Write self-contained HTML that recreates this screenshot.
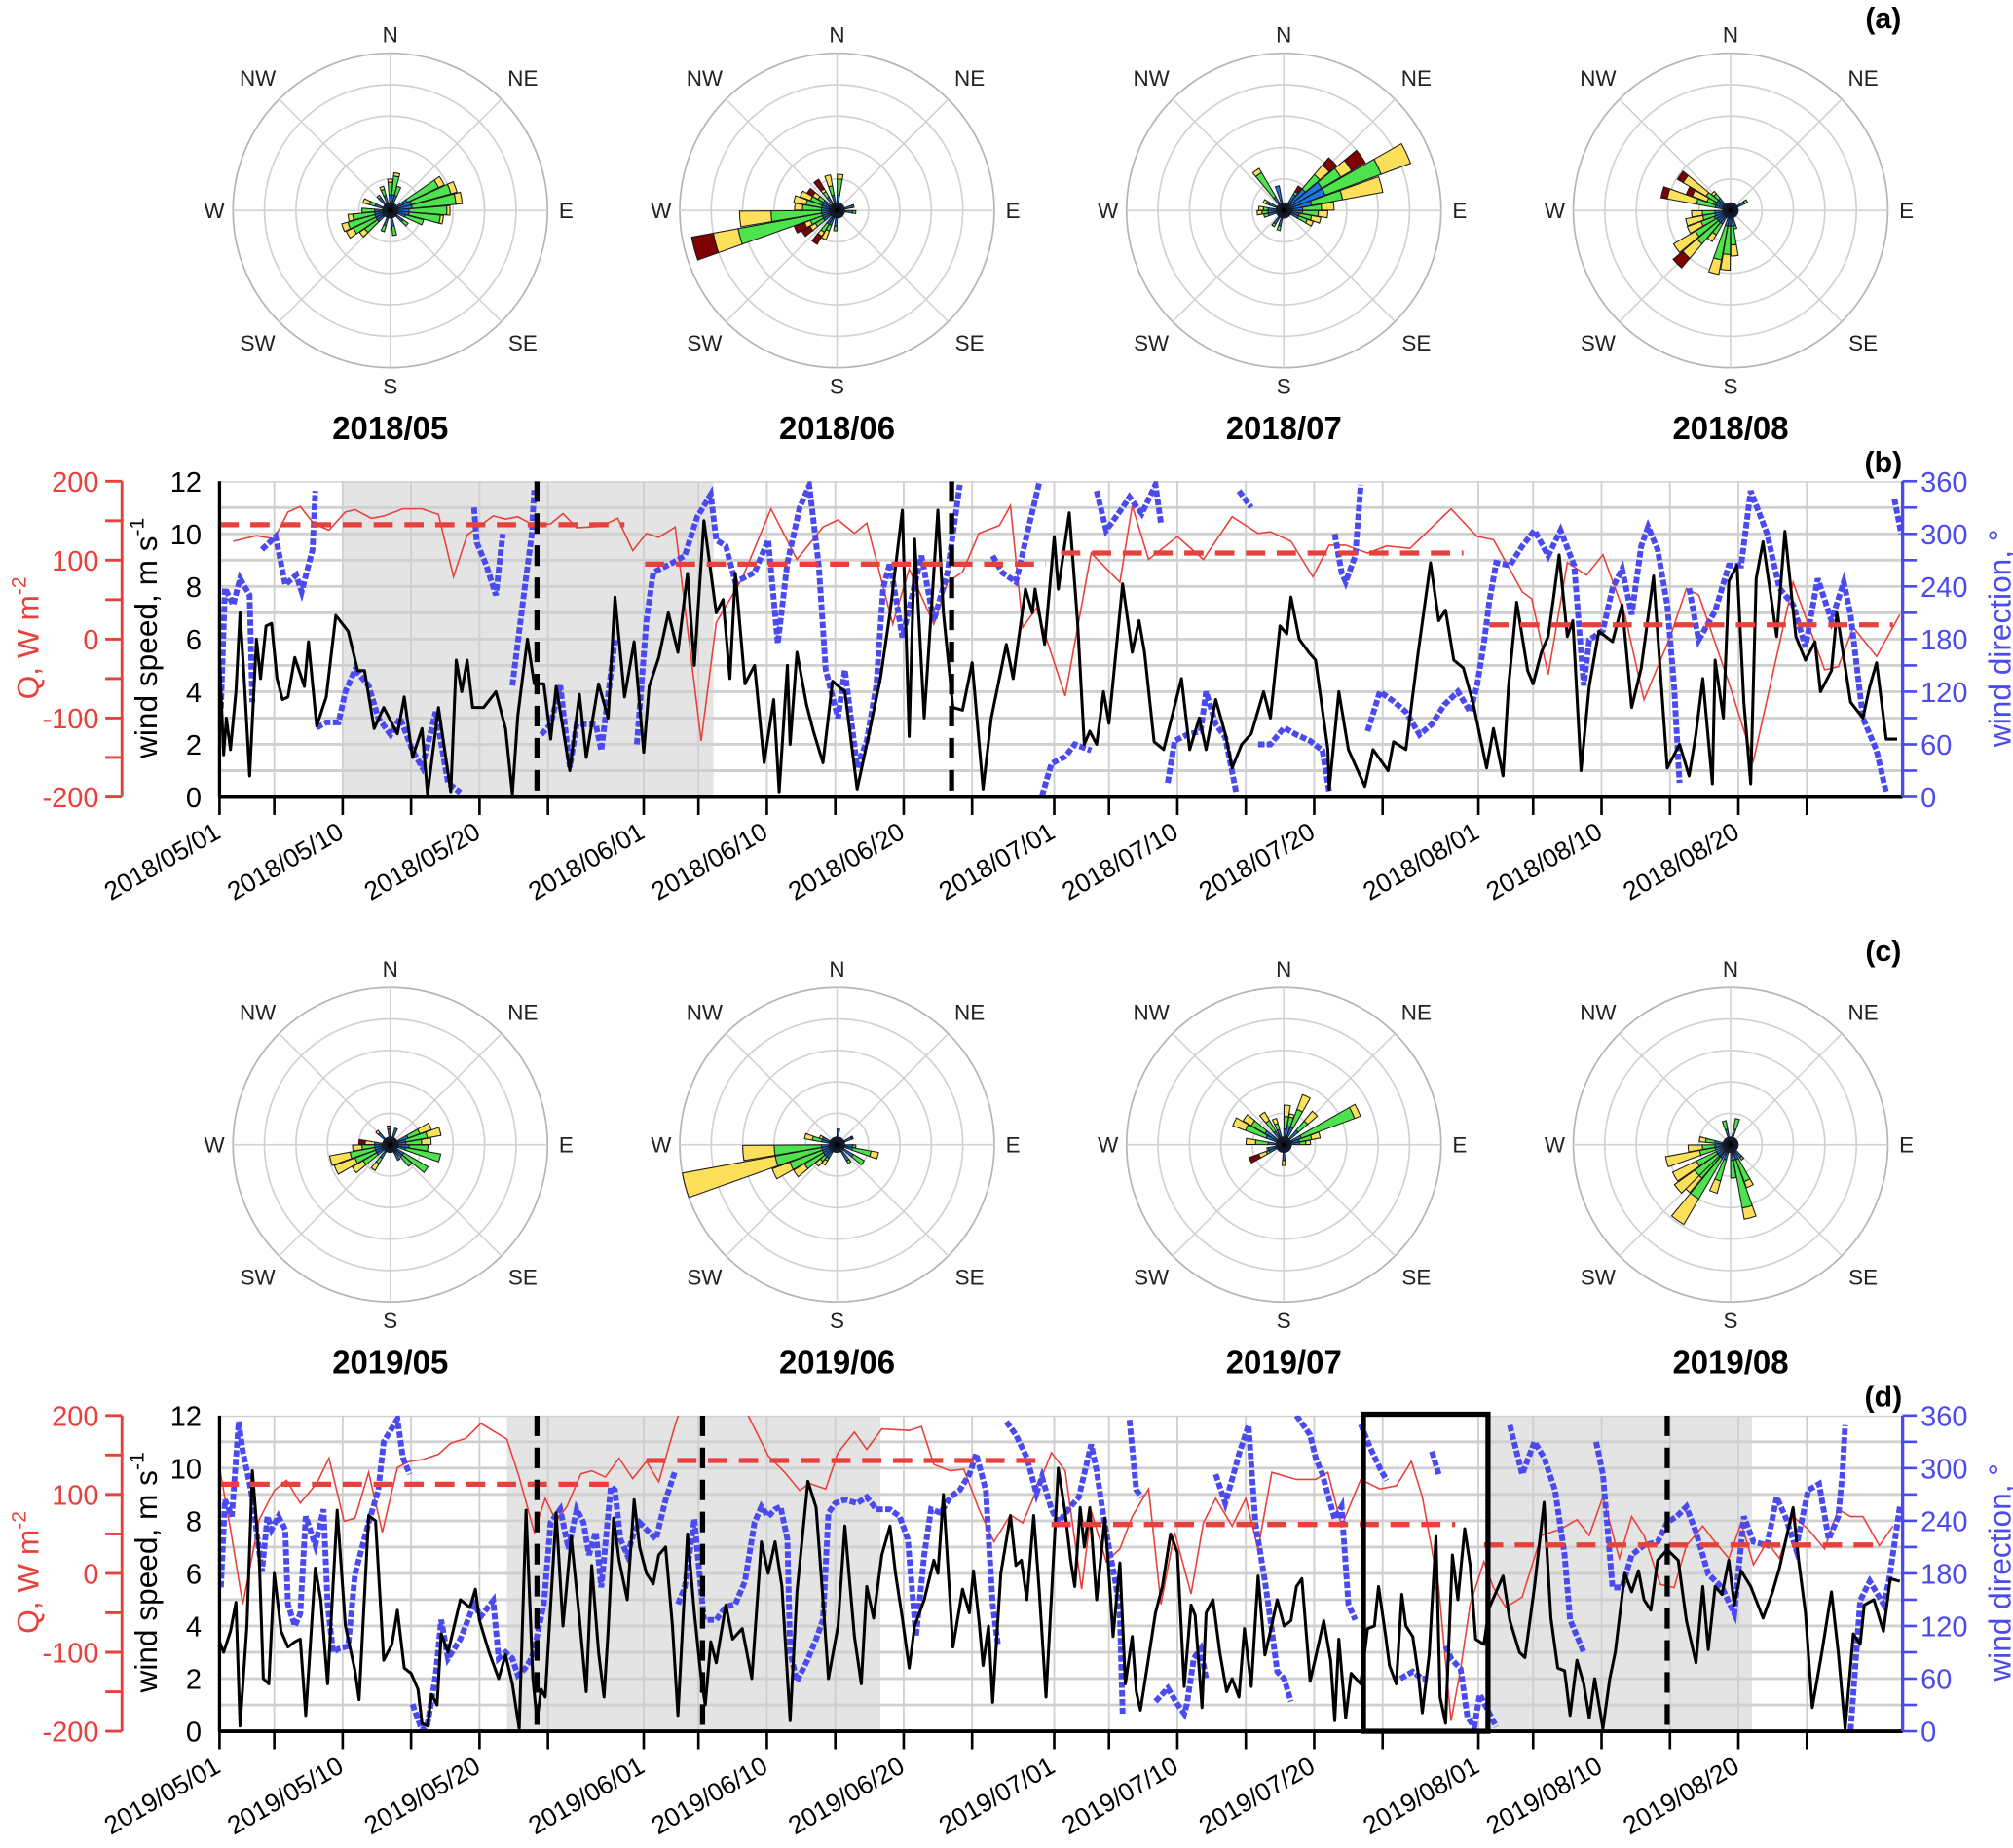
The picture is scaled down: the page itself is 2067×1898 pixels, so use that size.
<!DOCTYPE html>
<html><head><meta charset="utf-8"><title>Wind roses and time series</title>
<style>html,body{margin:0;padding:0;background:#fff}svg{display:block}text{font-family:"Liberation Sans",Arial,sans-serif}</style>
</head><body>
<svg id="fig" xmlns="http://www.w3.org/2000/svg" width="2067" height="1898" viewBox="0 0 1568 1440" preserveAspectRatio="none">
<rect x="0" y="0" width="1568" height="1440" fill="#fff"/>
<defs>
<clipPath id="clipB"><rect x="171" y="375" width="1311" height="246"/></clipPath>
<clipPath id="clipD"><rect x="171" y="1103" width="1311" height="246"/></clipPath>
</defs>
<g id="roses"></g>
<g id="panelB"></g>
<g id="panelD"></g>
<text x="1467" y="22" text-anchor="middle" font-size="23" font-weight="bold">(a)</text>
<text x="1467" y="368" text-anchor="middle" font-size="23" font-weight="bold">(b)</text>
<text x="1467" y="749" text-anchor="middle" font-size="23" font-weight="bold">(c)</text>
<text x="1467" y="1096" text-anchor="middle" font-size="23" font-weight="bold">(d)</text>
</svg>
<script>
// ---------- Wind rose data: [bearing, blueEnd, greenEnd, yellowEnd, redEnd] in ring units ----------
const roseTitles = ["2018/05","2018/06","2018/07","2018/08","2019/05","2019/06","2019/07","2019/08"];
const rose1805 = [[0,.5,.9,1,1],[10,.5,1.1,1.2,1.2],[20,.5,.8,.8,.8],[60,.6,1.7,1.9,1.9],[70,.7,2,2.2,2.2],[80,.7,2.1,2.3,2.3],[90,.6,1.8,1.9,1.9],[100,.6,1.6,1.7,1.7],[110,.5,1.1,1.1,1.1],[130,.5,.7,.7,.7],[170,.5,.8,.8,.8],[200,.5,.7,.7,.7],[230,.5,1,1.2,1.2],[240,.5,1.3,1.55,1.55],[250,.5,1.4,1.6,1.6],[260,.5,1.2,1.35,1.35],[270,.5,.9,.9,.9],[290,.5,.7,.9,.9],[320,.5,.6,.6,.6],[340,.5,.7,.8,.8]];
const rose1806 = [[255,.5,3.2,4,4.7],[265,.5,2.1,3.1,3.1],[275,.5,1.1,1.35,1.35],[285,.5,1,1.4,1.4],[295,.5,.9,1.25,1.25],[305,.5,.7,.9,1.1],[325,.5,.7,.8,1.15],[345,.5,.8,1.15,1.15],[5,.5,1,1.15,1.15],[245,.5,.9,1.1,1.45],[235,.5,.8,1,1.3],[215,.5,.8,.95,1.25],[205,.5,.7,1,1],[185,.5,.65,.65,.65],[95,.5,.6,.6,.6],[75,.5,.55,.55,.55]];
const rose1807 = [[65,1.4,3.3,4.3,4.3],[75,.9,1.9,3.2,3.2],[55,1.4,2.1,2.5,3],[45,.9,1.5,1.9,2.2],[35,.6,.7,.7,.9],[85,.6,1.2,1.6,1.6],[95,.6,1.1,1.4,1.4],[105,.5,.9,1.2,1.2],[115,.5,.8,1,1],[325,.5,1.4,1.55,1.55],[345,.8,.8,.8,.8],[295,.5,.6,.7,.7],[275,.5,.65,.8,.8],[265,.5,.7,.85,.85],[255,.5,.65,.65,.65],[215,.5,.6,.6,.6],[195,.5,.65,.65,.65]];
const rose1808 = [[305,.5,.9,1.75,1.96],[285,.5,1.1,2.05,2.25],[295,.5,.8,1.3,1.5],[315,.5,.7,.8,.8],[265,.5,.9,1.24,1.24],[255,.5,.9,1.45,1.45],[245,.55,1,1.47,1.47],[235,.5,1.3,2.1,2.1],[225,.5,1.4,2,2.4],[215,.5,.9,1.15,1.15],[195,.5,1.6,2.07,2.07],[185,.5,1.4,1.9,1.9],[175,.5,1.1,1.45,1.45],[165,.5,.6,.6,.6],[60,.5,.6,.6,.6]];
const rose1905 = [[75,.5,1.2,1.64,1.64],[65,.6,1,1.39,1.39],[85,.5,1,1.3,1.3],[105,.5,1.63,1.63,1.63],[95,.6,1.2,1.2,1.2],[125,.5,1.39,1.39,1.39],[135,.5,.9,.9,.9],[150,.55,.55,.55,.55],[255,.5,1.3,1.96,1.96],[245,.5,1.2,1.9,1.9],[235,.5,1,1.4,1.4],[215,.5,.7,.95,.95],[265,.5,.9,1.2,1.2],[275,.5,.5,.8,1],[315,.5,.5,.6,.6],[355,.5,.6,.6,.6],[20,.55,.55,.55,.55]];
const rose1906 = [[255,.5,2,5,5],[265,.5,2,3,3],[245,.5,1.6,2.2,2.2],[235,.5,1.2,1.6,1.6],[225,.5,.7,.9,.9],[215,.5,.6,.75,.75],[285,.5,.8,1.05,1.05],[295,.5,.5,.6,.6],[105,.5,1.1,1.34,1.34],[125,.6,1,1,1],[145,.6,.7,.7,.7],[95,.5,.6,.6,.6],[65,.5,.5,.5,.55],[5,.45,.45,.5,.5]];
const rose1907 = [[65,.6,2.4,2.6,2.6],[25,.6,1.2,1.7,1.7],[45,.6,1,1.4,1.4],[5,.5,.9,1.26,1.26],[15,.6,.9,1,1],[75,.5,.9,1.18,1.18],[85,.5,.7,.85,.85],[295,.6,1.3,1.73,1.73],[305,.7,1.2,1.5,1.5],[325,.5,.9,1.2,1.2],[340,.5,.7,.87,.87],[275,.5,.9,1.2,1.2],[255,.5,.5,.55,.55],[245,.5,.6,.85,1.18],[180,.5,.5,.66,.66]];
const rose1908 = [[215,.5,2,2.94,2.94],[225,.5,1.4,2,2],[230,.5,1.4,2.19,2.19],[240,.5,1.2,2.04,2.04],[255,.5,1,2.1,2.1],[265,.5,.9,1.35,1.35],[280,.5,.8,1,1],[200,.5,1.2,1.6,1.6],[165,.5,2.05,2.41,2.41],[155,.5,1.25,1.46,1.46],[175,.5,1.06,1.06,1.06],[345,.5,.78,.78,.78],[15,.5,.85,.85,.85],[140,.5,.6,.6,.6]];
const roseData = [rose1805,rose1806,rose1807,rose1808,rose1905,rose1906,rose1907,rose1908];

// ---------- Panel (b) 2018 ----------
const bSpeedDay = [0,0.3,0.5,0.8,1.2,1.5,1.8,2.2,2.7,3.0,3.4,3.8,4.2,4.6,5.0,5.5,6.2,6.5,7.1,7.8,8.5,9.4,10.1,10.6,11.3,12.0,13.0,13.5,14.1,14.8,15.2,16.0,16.9,17.3,17.7,18.1,18.5,19.3,20.2,20.9,21.4,21.8,22.5,23.0,23.7,24.2,24.6,25.6,26.3,26.8,27.7,28.4,28.9,29.6,30.3,31.0,31.4,32.1,32.8,33.5,34.2,34.7,35.4,36.3,36.8,37.3,37.7,38.4,39.1,39.8,40.5,40.9,41.5,41.7,42.2,42.9,43.4,44.1,44.8,45.7,46.6,47.3,48.3,49.0,49.9,50.4,50.8,51.5,52.5,52.9,53.6,54.3,55.0,55.8,56.4,57.5,58.0,58.9,59.4,59.6,60.3,61.0,61.3,62.1,62.7,63.2,63.6,64.1,64.6,65.0,66.0,66.7,67.2,67.6,68.3,69.0,70.3,70.9,71.6,72.1,72.8,73.5,74.0,74.7,75.4,76.3,76.8,77.5,78.0,78.3,78.9,79.6,80.1,81.0,81.1,81.8,82.5,83.7,84.3,85.4,85.8,86.7,87.6,88.5,89.1,89.6,90.2,90.9,91.6,92.6,93.1,93.8,94.2,94.8,95.6,96.0,96.6,97.1,97.5,97.9,98.5,98.9,99.5,100.1,100.8,101.8,102.5,103.2,103.9,104.8,105.8,106.7,107.4,107.9,108.4,109.1,109.3,109.9,110.3,110.9,111.4,111.9,112.3,112.8,113.8,114.4,115.2,115.9,116.6,117.0,117.8,118.2,119.2,120.1,120.6,121.1,121.8,122.6];
const bSpeed = [5.3,1.6,3.0,1.8,4.0,7.0,4.5,0.8,6.0,4.5,6.5,6.6,4.5,3.7,3.8,5.3,4.2,5.9,2.7,3.8,6.9,6.3,4.8,4.8,2.6,3.4,2.4,3.8,1.5,2.6,0.1,3.4,0.2,5.2,4.0,5.2,3.4,3.4,4.0,2.6,0.1,3.1,6.0,4.3,4.3,2.2,4.2,1.0,3.9,1.5,4.3,3.0,7.6,3.8,5.9,1.7,4.2,5.3,7.0,5.5,8.5,5.0,10.5,7.0,7.5,4.5,8.5,4.3,5.0,1.3,3.7,0.2,5.0,2.0,5.5,3.5,2.5,1.3,4.4,4.0,0.3,2.0,4.5,7.0,10.9,2.3,9.8,3.0,10.9,7.0,3.4,3.3,5.1,0.3,3.0,5.8,4.5,7.9,7.0,7.9,5.8,9.9,7.9,10.8,6.7,2.0,2.5,2.0,4.0,2.8,8.1,5.5,6.7,5.5,2.1,1.8,4.5,1.8,3.0,1.8,3.7,2.4,1.1,2.0,2.4,4.0,3.0,6.5,6.2,7.6,6.0,5.5,5.2,1.8,0.3,4.0,1.8,0.4,1.8,1.0,2.1,1.8,5.5,8.9,6.7,7.1,5.2,4.9,3.6,1.1,2.6,0.8,4.2,7.4,4.8,4.3,5.5,6.1,7.6,9.2,6.1,6.7,1.0,4.2,6.3,5.9,7.3,3.4,4.9,8.4,1.1,2.0,0.8,2.4,4.5,0.5,5.2,3.0,8.2,8.8,3.6,0.5,8.3,9.7,6.1,10.1,6.1,5.2,5.9,4.0,4.8,7.0,3.6,3.0,4.2,5.1,2.2,2.2];
const bDirDay = [0.1,0.4,1.0,1.5,2.2,2.4,3.1,4.1,4.8,5.6,6.0,6.8,7.0,7.1,7.8,8.7,9.2,9.9,10.9,11.6,12.5,13.2,14.1,14.8,15.8,16.7,17.6,18.6,18.8,19.5,20.2,20.7,21.4,22.3,22.8,23.0,23.5,24.2,24.9,25.6,26.1,27.5,27.9,28.9,29.6,30.5,31.2,31.7,33.1,34.0,34.9,35.9,36.3,37.0,37.7,39.1,40.1,40.8,41.5,42.4,43.1,43.8,44.3,45.2,45.7,46.6,47.3,48.0,48.5,49.0,49.9,51.3,52.2,53.2,54.1,55.5,56.5,57.2,58.2,59.2,59.9,60.1,60.8,61.8,62.5,63.7,64.1,64.8,66.0,66.5,67.4,68.4,68.8,69.3,69.8,70.7,71.7,72.1,72.8,73.5,74.3,74.5,75.4,75.9,76.8,77.8,78.7,79.7,80.6,81.1,81.5,82.0,82.3,83.0,83.4,83.9,84.8,85.8,86.7,87.7,88.6,89.5,90.5,91.4,91.9,92.4,92.8,93.3,94.3,95.2,96.1,97.1,98.0,99.0,99.7,100.1,101.1,101.8,102.5,103.2,103.9,104.4,105.1,105.8,106.3,106.7,107.4,108.1,109.3,110.3,111.2,111.9,113.1,114.0,115.0,115.9,116.8,117.8,118.7,119.2,120.1,121.1,121.8,122.4,122.9];
const bDir = [101,238,219,249,230,108,282,297,242,253,234,282,349,79,85,85,120,145,127,90,71,90,53,34,97,16,5,330,290,264,230,300,127,238,297,350,71,83,127,34,83,83,53,179,330,60,201,256,267,275,319,345,293,286,245,256,293,175,267,330,355,263,145,90,145,34,64,127,238,267,182,275,201,256,356,53,275,256,245,312,358,1,38,46,60,53,349,304,330,342,323,356,312,16,64,71,75,120,83,68,5,349,330,60,60,79,71,64,53,5,300,256,245,275,356,75,120,109,97,71,83,105,120,97,127,175,223,267,264,286,304,275,304,264,127,179,190,238,260,208,286,308,282,219,127,16,238,179,212,264,264,349,300,238,219,171,249,201,245,208,90,53,5,340,300];
const bQDay = [1.0,2.7,4.0,5.0,5.9,6.9,8.0,9.2,9.9,11.1,12.0,13.4,14.8,16.0,17.1,18.1,20.0,20.9,21.8,23.0,24.2,25.1,26.1,27.9,29.1,30.2,31.2,32.1,33.3,35.2,36.3,38.2,40.3,42.2,44.1,45.2,46.4,47.3,49.2,50.4,52.2,53.2,54.3,55.5,57.0,57.8,58.7,59.7,61.8,63.7,65.8,66.7,67.9,70.0,71.9,74.0,75.9,76.8,78.3,79.9,81.1,82.3,83.9,85.3,87.0,90.0,91.9,93.1,95.2,95.9,97.1,98.5,99.9,101.1,102.7,104.1,106.0,107.2,108.1,110.3,112.1,115.0,117.3,118.3,119.4,121.1,122.8];
const bQ = [124,131,127,161,168,146,138,161,164,153,156,165,165,158,79,132,156,152,155,144,146,159,141,143,153,112,134,129,142,-129,21,77,165,101,142,151,134,147,19,89,19,72,85,134,144,169,15,39,-72,109,72,169,101,130,101,155,134,136,124,79,119,119,109,118,115,165,130,126,60,51,-45,97,81,107,31,-77,2,64,56,-55,-154,72,-39,-35,15,-22,31];
const bMeanQ = [145,95,109,18];
const bMeanStart = [0,31.1,61.5,92.8];
const bMeanEnd = [29.6,60.4,90.9,122.3];
const bShadeStart = [9.0];
const bShadeEnd = [36.1];
const bEvents = [23.2,53.5];

// ---------- Panel (d) 2019 ----------
const dSpeedDay = [0,0.3,0.8,1.2,1.5,2.0,2.4,2.9,3.2,3.6,4.0,4.5,5.0,5.5,5.9,6.3,7.0,7.4,7.9,8.6,9.2,9.9,10.2,10.9,11.4,12.0,12.6,13.0,13.5,14.0,14.5,14.8,15.2,15.5,15.9,16.2,16.7,17.6,18.3,18.7,19.0,19.7,20.4,20.9,21.4,21.9,22.4,22.9,23.2,23.5,23.8,24.6,25.1,25.7,26.3,26.8,27.2,27.7,28.1,28.4,28.8,29.2,29.8,30.3,30.7,31.2,31.7,32.1,32.6,33.1,33.5,34.2,34.7,35.2,35.5,35.9,36.3,37.0,37.5,38.2,38.9,39.6,40.1,40.6,41.1,41.7,42.2,43.0,43.6,44.1,44.5,45.2,45.7,46.4,46.9,47.3,47.8,48.4,49.0,49.4,49.9,50.4,50.8,51.5,52.2,52.5,52.9,53.6,54.3,54.8,55.1,55.5,55.8,56.2,56.5,57.1,57.8,58.2,58.6,59.0,59.5,59.9,60.4,61.3,61.8,62.2,62.5,62.9,63.2,63.6,64.1,64.7,65.0,65.3,65.8,66.2,66.7,67.0,67.3,67.9,68.4,68.9,69.5,70.0,70.5,71.0,71.3,71.8,72.1,72.6,73.1,73.6,74.0,74.5,74.9,75.4,75.9,76.4,76.8,77.3,77.8,78.3,78.7,79.1,79.7,80.1,80.7,81.2,81.5,81.8,82.3,82.7,83.4,83.9,84.4,84.7,85.2,85.5,86.0,86.4,86.7,87.2,87.6,87.9,88.4,88.9,89.2,89.6,90.1,90.5,91.0,91.4,91.8,92.4,92.8,93.8,94.3,95.0,95.4,96.1,96.8,97.3,97.8,98.3,98.7,99.2,99.7,100.1,100.5,101.1,101.6,102.0,102.7,103.2,103.7,104.1,104.6,105.1,105.8,106.6,107.2,107.9,108.4,108.8,109.3,109.8,110.3,110.7,111.2,111.9,112.8,113.5,114.0,115.0,115.4,115.9,116.4,117.1,117.8,118.3,118.8,119.4,119.9,120.2,120.9,121.6,122.1,122.8];
const dSpeed = [3.4,3.0,3.8,4.9,0.2,4.0,9.9,6.6,2.0,1.8,6.0,3.8,3.2,3.4,3.5,0.6,6.2,5.0,1.8,8.4,4.0,2.3,1.2,8.2,8.0,2.7,3.3,4.6,2.4,2.2,1.6,0.3,0.2,1.4,1.0,3.7,3.0,5.0,4.7,5.4,4.2,3.0,2.0,2.9,1.8,0.1,8.4,2.0,0.4,1.6,1.3,8.3,4.0,7.4,4.3,1.5,6.3,3.0,1.3,3.8,8.1,6.5,5.0,8.8,7.0,6.0,5.6,6.7,7.0,4.0,0.6,7.5,4.5,2.0,1.0,3.4,2.6,4.8,3.5,3.9,2.0,7.2,6.0,7.2,5.5,0.4,5.3,9.5,8.5,5.0,2.0,4.0,7.8,3.6,1.8,5.5,4.3,6.7,7.8,6.0,4.3,2.4,4.0,5.0,6.5,6.0,9.0,3.2,5.4,4.5,6.1,4.2,2.5,4.0,1.1,6.0,8.2,6.3,6.5,5.0,8.2,5.4,1.3,10.0,8.3,6.5,5.5,8.5,7.0,8.5,5.0,8.1,6.0,3.6,6.4,1.8,3.6,1.5,0.8,2.8,4.5,5.5,7.5,6.8,1.7,4.8,4.4,0.9,4.5,5.0,3.0,1.5,2.0,1.3,3.9,1.7,5.9,2.9,3.8,5.0,4.0,4.2,5.5,5.8,1.9,2.8,4.2,2.7,0.4,3.5,0.5,2.2,1.8,3.9,4.0,5.5,3.7,2.5,1.8,5.2,4.0,3.6,2.2,0.7,2.9,7.4,1.3,0.3,6.7,5.0,7.7,6.3,3.5,3.3,4.7,5.9,4.2,3.0,2.8,5.5,8.7,4.3,2.4,2.3,0.6,2.7,1.8,0.5,2.0,0.1,2.0,3.0,6.0,5.3,6.1,5.0,4.6,6.5,6.9,6.5,4.2,2.6,5.5,3.1,5.5,5.2,6.5,4.8,6.1,5.5,4.3,5.3,6.2,8.5,6.5,4.5,0.9,3.0,5.3,3.0,0.1,3.7,3.3,4.8,5.0,3.8,5.8,5.7];
const dDirDay = [0.1,0.4,0.9,1.4,1.7,2.3,3.1,3.5,3.8,4.3,4.8,5.0,5.5,5.9,6.3,7.0,7.6,7.9,8.3,8.7,9.4,9.9,10.9,11.6,12.0,13.0,13.4,13.9,14.1,14.8,15.2,15.8,16.2,16.7,17.6,18.6,19.1,20.0,20.4,20.9,21.4,21.8,22.3,22.8,23.2,23.7,24.2,24.9,25.5,26.1,26.6,27.0,27.5,27.9,28.6,28.9,29.3,29.8,30.3,30.7,31.2,31.9,32.6,33.3,33.5,34.0,34.7,35.4,36.3,37.0,37.7,38.4,39.1,39.6,40.1,40.6,41.0,41.5,41.7,42.2,42.9,43.6,44.1,44.5,45.0,45.7,46.6,47.3,48.0,49.0,49.7,50.3,50.6,50.9,51.5,52.0,52.7,53.4,54.1,54.8,55.3,56.0,56.5,56.9,57.5,58.2,59.0,59.7,60.1,60.8,61.3,62.2,62.8,63.7,64.1,64.6,65.1,65.5,65.8,66.0,66.5,67.0,67.4,68.4,69.3,70.0,70.5,70.7,71.2,71.7,72.1,72.8,73.5,74.3,74.5,75.2,75.7,76.4,76.8,77.3,77.8,78.3,78.7,79.7,80.1,80.6,81.1,81.5,82.0,82.5,83.0,83.4,84.1,84.8,85.3,86.3,87.2,87.9,88.1,88.6,89.1,89.6,90.0,90.7,91.2,91.7,92.1,93.3,94.3,95.2,96.1,96.8,97.6,98.3,98.7,99.7,100.6,101.1,101.8,102.5,103.2,104.1,105.1,105.8,106.5,107.2,107.9,108.8,109.8,110.7,111.4,112.1,113.1,113.8,114.5,115.2,116.1,116.9,117.6,118.3,118.6,118.8,119.2,119.9,120.6,121.6,122.0,122.8];
const dDir = [164,264,245,353,319,275,182,245,230,245,230,145,120,134,245,212,253,145,90,94,97,179,238,275,330,356,312,293,31,1,8,64,127,83,105,145,131,149,83,90,83,64,71,83,108,145,238,253,208,253,238,201,227,164,279,275,219,201,227,238,230,219,264,297,145,164,242,127,127,142,145,171,238,256,245,253,256,219,90,57,79,105,127,249,260,264,260,267,253,253,245,219,164,108,201,253,249,267,275,293,316,275,145,97,353,338,312,271,290,253,238,256,267,327,297,245,201,168,134,20,355,275,267,34,49,31,20,31,83,94,60,293,260,304,316,349,238,171,127,68,60,34,360,338,312,293,264,242,256,145,127,350,323,300,286,60,68,60,60,319,293,97,83,71,16,5,42,5,349,293,330,312,275,201,127,90,330,293,164,164,201,212,216,238,245,256,227,179,164,134,245,216,212,267,242,208,275,282,219,245,293,349,1,149,171,145,171,256,267];
const dQDay = [0,0.8,1.7,2.9,4.0,4.9,5.9,7.1,8.0,9.1,9.9,10.9,11.9,13.0,13.9,14.8,16.0,16.9,18.0,19.1,21.0,21.9,23.0,23.8,24.6,25.4,26.4,27.2,28.2,29.2,30.2,31.2,32.1,33.3,33.8,35.5,38.2,40.1,41.3,42.4,43.1,44.3,45.2,46.4,47.3,48.4,50.4,51.3,52.2,53.4,54.4,55.5,56.6,57.8,58.7,59.7,60.8,61.8,63.0,63.7,64.8,65.8,66.7,67.9,68.8,69.8,71.0,71.9,72.8,74.0,75.0,75.9,76.9,78.7,80.1,81.0,82.0,83.4,84.8,86.0,87.1,87.9,89.1,90.0,90.7,91.4,92.4,93.1,94.0,95.2,96.6,98.0,99.2,100.1,101.1,102.3,103.2,104.1,105.3,106.3,107.2,108.4,109.1,110.3,111.2,112.1,113.1,114.0,115.0,116.1,117.3,118.3,119.2,120.1,121.3,122.3];
const dQ = [134,56,-39,68,105,118,89,114,146,66,70,128,52,134,142,144,151,165,171,190,170,122,52,95,66,85,126,130,122,146,120,142,116,188,215,225,215,149,128,105,114,107,153,179,157,183,181,186,138,130,132,81,40,74,64,105,153,130,-20,79,15,31,72,107,-39,52,-26,64,95,60,95,31,128,119,119,128,60,119,107,111,142,97,-18,-187,-121,-39,15,-18,-43,-30,48,56,68,48,97,19,72,48,-14,-18,35,60,44,19,64,11,40,19,72,56,31,81,72,72,35,60];
const dMeanQ = [113,143,62,36];
const dMeanStart = [0,31.2,60.8,92.4];
const dMeanEnd = [29.0,59.9,90.3,121.6];
const dShadeStart = [21.0,92.8];
const dShadeEnd = [48.3,112.0];
const dEvents = [23.2,35.3,105.8];
const dBoxStart = [83.6];
const dBoxEnd = [92.7];

// ---------- axis ticks ----------
const monthStart = [0,31,61,92];
const monthNames = ["05","06","07","08"];
const tickDayOfMonth = [1,5,10,15,20,25];
const labelDayOfMonth = [1,10,20];
const speedTicks = [0,2,4,6,8,10,12];
const qTicks = [-200,-100,0,100,200];
const dirTicks = [0,60,120,180,240,300,360];

const NS = "http://www.w3.org/2000/svg";
function mk(parent, tag, attrs, text) {
  const e = document.createElementNS(NS, tag);
  for (const k in attrs) e.setAttribute(k, attrs[k]);
  if (text !== undefined) e.textContent = text;
  parent.appendChild(e);
  return e;
}

// ---------- roses ----------
const RING = 24.5;
const CORE = 0.25;
const roseCenters = [[304,164],[652,164],[1000,164],[1348,164],[304,892],[652,892],[1000,892],[1348,892]];
const segColors = ["#0c2a6e","#1a78e8","#4de34d","#fde05a","#800000"];
function pt(cx, cy, r, b) { const a = b * Math.PI / 180; return [cx + r * Math.sin(a), cy - r * Math.cos(a)]; }
function wedge(cx, cy, r0, r1, b0, b1) {
  const p1 = pt(cx, cy, r0, b0), p2 = pt(cx, cy, r1, b0), p3 = pt(cx, cy, r1, b1), p4 = pt(cx, cy, r0, b1);
  return "M" + p1.join(",") + "L" + p2.join(",") + "A" + r1 + "," + r1 + " 0 0 1 " + p3.join(",") + "L" + p4.join(",") + (r0 > 0 ? "A" + r0 + "," + r0 + " 0 0 0 " + p1.join(",") : "") + "Z";
}
const rosesG = document.getElementById("roses");
roseData.forEach(function (petals, i) {
  const cx = roseCenters[i][0], cy = roseCenters[i][1];
  const g = mk(rosesG, "g", {});
  
  
  for (let k = 1; k <= 5; k++) mk(g, "circle", {cx: cx, cy: cy, r: k * RING, fill: "none", stroke: k === 5 ? "#b5b5b5" : "#d2d2d2", "stroke-width": 1.3});
  for (let b = 0; b < 360; b += 45) { const p = pt(cx, cy, 5 * RING, b); mk(g, "line", {x1: cx, y1: cy, x2: p[0], y2: p[1], stroke: "#d2d2d2", "stroke-width": 1.2}); }
  const labs = ["N","NE","E","SE","S","SW","W","NW"];
  labs.forEach(function (l, j) {
    const b = j * 45, r = (j % 2 === 0) ? 137 : 146;
    const p = pt(cx, cy, r, b);
    const t = mk(g, "text", {x: p[0], y: p[1] + 6, "text-anchor": "middle", "font-size": 17, fill: "#222"}, l);
    
    
  });
  for (let b = 0; b < 360; b += 10) mk(g, "path", {d: wedge(cx, cy, 0, CORE * RING, b - 4.5, b + 4.5), fill: segColors[0], stroke: "#111", "stroke-width": 0.4});
  petals.forEach(function (p) {
    const b = p[0]; const ends = [CORE, p[1], p[2], p[3], p[4]];
    const pg = mk(g, "g", {});
    
    
    for (let s = 1; s < 5; s++) {
      if (ends[s] > ends[s - 1] + 0.001) mk(pg, "path", {d: wedge(cx, cy, ends[s - 1] * RING, ends[s] * RING, b - 4.6, b + 4.6), fill: segColors[s], stroke: "#1a1a1a", "stroke-width": 0.8});
    }
  });
  mk(g, "circle", {cx: cx, cy: cy, r: 1.5, fill: "#000"});
  const tt = mk(g, "text", {x: cx, y: cy + 178, "text-anchor": "middle", "font-size": 25, "font-weight": "bold"}, roseTitles[i]);
  
  
});

// ---------- time-series panels ----------
const X0 = 171, X1 = 1482, DAYS = 123;
function xDay(d) { return X0 + d * (X1 - X0) / DAYS; }
function drawPanel(gid, top, clipId, year, S) {
  const G = document.getElementById(gid);
  const H = 246, bot = top + H;
  const yS = v => top + (12 - v) * H / 12;
  const yQ = q => top + (200 - q) * H / 400;
  const yD = d => top + (360 - d) * H / 360;
  const plot = mk(G, "g", {"clip-path": "url(#" + clipId + ")"});
  S.shadeStart.forEach(function (s, i) {
    const r = mk(plot, "rect", {x: xDay(s), y: top, width: xDay(S.shadeEnd[i]) - xDay(s), height: H, fill: "#e4e4e4"});
    
    
  });
  for (let v = 1; v <= 12; v++) mk(plot, "line", {x1: X0, x2: X1, y1: yS(v), y2: yS(v), stroke: "#d0d0d0", "stroke-width": 2.2});
  const tickDays = [];
  monthStart.forEach(function (m) { tickDayOfMonth.forEach(function (d) { tickDays.push(m + d - 1); }); });
  tickDays.forEach(function (d) { mk(plot, "line", {x1: xDay(d), x2: xDay(d), y1: top, y2: bot, stroke: "#cfcfcf", "stroke-width": 1.4}); });
  const nq = Math.min(S.qDay.length, S.q.length);
  let pts = S.qDay.slice(0, nq).map((d, i) => xDay(d) + "," + yQ(S.q[i])).join(" ");
  const ql = mk(plot, "polyline", {points: pts, fill: "none", stroke: "#e8413c", "stroke-width": 1.2});
  
  
  let seg = [];
  const dirG = mk(plot, "g", {});
  
  
  function flush() { if (seg.length > 1) mk(dirG, "polyline", {points: seg.join(" "), fill: "none", stroke: "#4a4aee", "stroke-width": 4.5, "stroke-dasharray": "5 1.8"}); seg = []; }
  const nd = Math.min(S.dirDay.length, S.dir.length);
  for (let i = 0; i < nd; i++) {
    if (i > 0 && Math.abs(S.dir[i] - S.dir[i - 1]) > 150) flush();
    seg.push(xDay(S.dirDay[i]) + "," + yD(S.dir[i]));
  }
  flush();
  const ns = Math.min(S.spDay.length, S.sp.length);
  pts = S.spDay.slice(0, ns).map((d, i) => xDay(d) + "," + yS(S.sp[i])).join(" ");
  const sl = mk(plot, "polyline", {points: pts, fill: "none", stroke: "#000", "stroke-width": 2.3, "stroke-linejoin": "round"});
  
  
  S.meanQ.forEach(function (q, i) {
    const l = mk(plot, "line", {x1: xDay(S.meanStart[i]), x2: xDay(S.meanEnd[i]), y1: yQ(q), y2: yQ(q), stroke: "#e8413c", "stroke-width": 4, "stroke-dasharray": "15 9"});
    
    
  });
  S.events.forEach(function (d) {
    const l = mk(plot, "line", {x1: xDay(d), x2: xDay(d), y1: top, y2: bot, stroke: "#000", "stroke-width": 4, "stroke-dasharray": "16 9"});
    
    
  });
  if (S.boxStart) S.boxStart.forEach(function (s, i) {
    const r = mk(G, "rect", {x: xDay(s), y: top - 1, width: xDay(S.boxEnd[i]) - xDay(s), height: H + 1, fill: "none", stroke: "#000", "stroke-width": 4});
    
    
  });
  mk(G, "line", {x1: X0, x2: X0, y1: top, y2: bot, stroke: "#000", "stroke-width": 2.5});
  mk(G, "line", {x1: X0 - 1, x2: X1, y1: bot, y2: bot, stroke: "#000", "stroke-width": 3});
  tickDays.forEach(function (d) { mk(G, "line", {x1: xDay(d), x2: xDay(d), y1: bot, y2: bot + 14, stroke: "#000", "stroke-width": 2}); });
  monthStart.forEach(function (m, mi) {
    labelDayOfMonth.forEach(function (dd) {
      const x = xDay(m + dd - 1), y = bot + 31;
      const lab = year + "/" + monthNames[mi] + "/" + (dd < 10 ? "0" + dd : dd);
      const t = mk(G, "text", {x: x + 2, y: y, "text-anchor": "end", "font-size": 20, transform: "rotate(-30 " + (x + 2) + " " + y + ")"}, lab);
      
      
    });
  });
  speedTicks.forEach(function (v) { mk(G, "text", {x: 157, y: yS(v) + 8, "text-anchor": "end", "font-size": 22}, String(v)); });
  mk(G, "line", {x1: 95, x2: 95, y1: top, y2: bot, stroke: "#e8413c", "stroke-width": 2.2});
  for (let q = -200; q <= 200; q += 50) mk(G, "line", {x1: 82, x2: 95, y1: yQ(q), y2: yQ(q), stroke: "#e8413c", "stroke-width": 2.2});
  qTicks.forEach(function (q) { mk(G, "text", {x: 77, y: yQ(q) + 8, "text-anchor": "end", "font-size": 22, fill: "#e8413c"}, String(q)); });
  mk(G, "line", {x1: X1, x2: X1, y1: top, y2: bot, stroke: "#4a4aee", "stroke-width": 2.5});
  for (let d = 0; d <= 360; d += 30) mk(G, "line", {x1: X1, x2: X1 + 11, y1: yD(d), y2: yD(d), stroke: "#4a4aee", "stroke-width": 2});
  dirTicks.forEach(function (d) { mk(G, "text", {x: 1496, y: yD(d) + 8, "font-size": 22, fill: "#4a4aee"}, String(d)); });
  const cy = top + 123;
  const t1 = mk(G, "text", {x: 122, y: cy + 93, "font-size": 24, transform: "rotate(-90 122 " + (cy + 93) + ")"});
  
  
  t1.appendChild(document.createTextNode("wind speed, m s"));
  mk(t1, "tspan", {dy: -10, "font-size": 16}, "-1");
  const t2 = mk(G, "text", {x: 30, y: cy + 47, "font-size": 24, fill: "#e8413c", transform: "rotate(-90 30 " + (cy + 47) + ")"});
  
  
  t2.appendChild(document.createTextNode("Q, W m"));
  mk(t2, "tspan", {dy: -10, "font-size": 16}, "-2");
  const t3 = mk(G, "text", {x: 1566, y: cy + 84, "font-size": 24, fill: "#4a4aee", transform: "rotate(-90 1566 " + (cy + 84) + ")"}, "wind direction, \u00b0");
  
  
}
drawPanel("panelB", 375, "clipB", "2018", {spDay: bSpeedDay, sp: bSpeed, dirDay: bDirDay, dir: bDir, qDay: bQDay, q: bQ, meanQ: bMeanQ, meanStart: bMeanStart, meanEnd: bMeanEnd, shadeStart: bShadeStart, shadeEnd: bShadeEnd, events: bEvents});
drawPanel("panelD", 1103, "clipD", "2019", {spDay: dSpeedDay, sp: dSpeed, dirDay: dDirDay, dir: dDir, qDay: dQDay, q: dQ, meanQ: dMeanQ, meanStart: dMeanStart, meanEnd: dMeanEnd, shadeStart: dShadeStart, shadeEnd: dShadeEnd, events: dEvents, boxStart: dBoxStart, boxEnd: dBoxEnd});
</script>
</body></html>
